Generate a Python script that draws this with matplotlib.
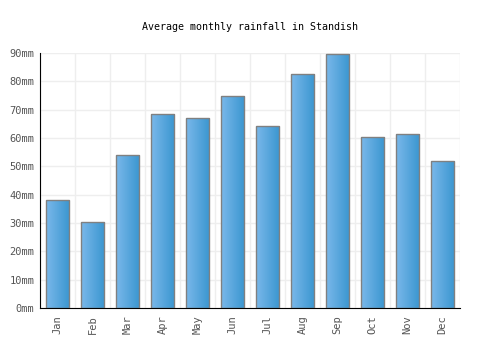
import numpy as np
import matplotlib.pyplot as plt
from matplotlib.colors import LinearSegmentedColormap

months = ["Jan", "Feb", "Mar", "Apr", "May", "Jun",
          "Jul", "Aug", "Sep", "Oct", "Nov", "Dec"]
rainfall = [38.0, 30.3, 53.9, 68.4, 67.0, 74.7, 64.1, 82.5, 89.6, 60.2, 61.3, 51.8]
yticks = [0, 10, 20, 30, 40, 50, 60, 70, 80, 90]
ylabels = [f"{v}mm" for v in yticks]

plt.rcParams["font.family"] = "DejaVu Sans Mono"

fig = plt.figure(figsize=(5, 3.5), dpi=100)
ax = fig.add_axes([0.08, 0.12, 0.84, 0.7286])

x = np.arange(len(months))
bars = ax.bar(x, rainfall, width=0.67, color="none", edgecolor="#808080",
              linewidth=1, zorder=3)

# horizontal gradient inside each bar
cmap = LinearSegmentedColormap.from_list("bluegrad", ["#7ab8ea", "#3a96d0"])
grad = np.linspace(0, 1, 64).reshape(1, -1)
for b in bars:
    x0, y0 = b.get_x(), b.get_y()
    w, h = b.get_width(), b.get_height()
    im = ax.imshow(grad, cmap=cmap, aspect="auto", extent=[x0, x0 + w, y0, y0 + h],
                   zorder=2, interpolation="bilinear")
    im.set_clip_path(b)

ax.set_xlim(-0.5, len(months) - 0.5)
ax.set_ylim(0, 90)
ax.set_xticks(x)
ax.set_xticklabels(months, rotation=90, fontsize=7.5, color="#555555")
ax.set_yticks(yticks)
ax.set_yticklabels(ylabels, fontsize=7.5, color="#555555")
ax.set_xticks(np.arange(-0.5, len(months), 1), minor=True)
ax.tick_params(axis="both", which="both", length=0)
ax.tick_params(axis="y", pad=4)
ax.tick_params(axis="x", pad=5)

ax.grid(True, axis="y", color="#eeeeee", linewidth=1, zorder=0)
ax.grid(True, axis="x", which="minor", color="#eeeeee", linewidth=1, zorder=0)
ax.set_axisbelow(True)

for side in ["top", "right"]:
    ax.spines[side].set_visible(False)
ax.spines["left"].set_color("black")
ax.spines["bottom"].set_color("black")

fig.text(0.5, 0.923, "Average monthly rainfall in Standish", ha="center",
         va="center", fontsize=7.2, color="black")

fig.savefig("out.png", dpi=100)
